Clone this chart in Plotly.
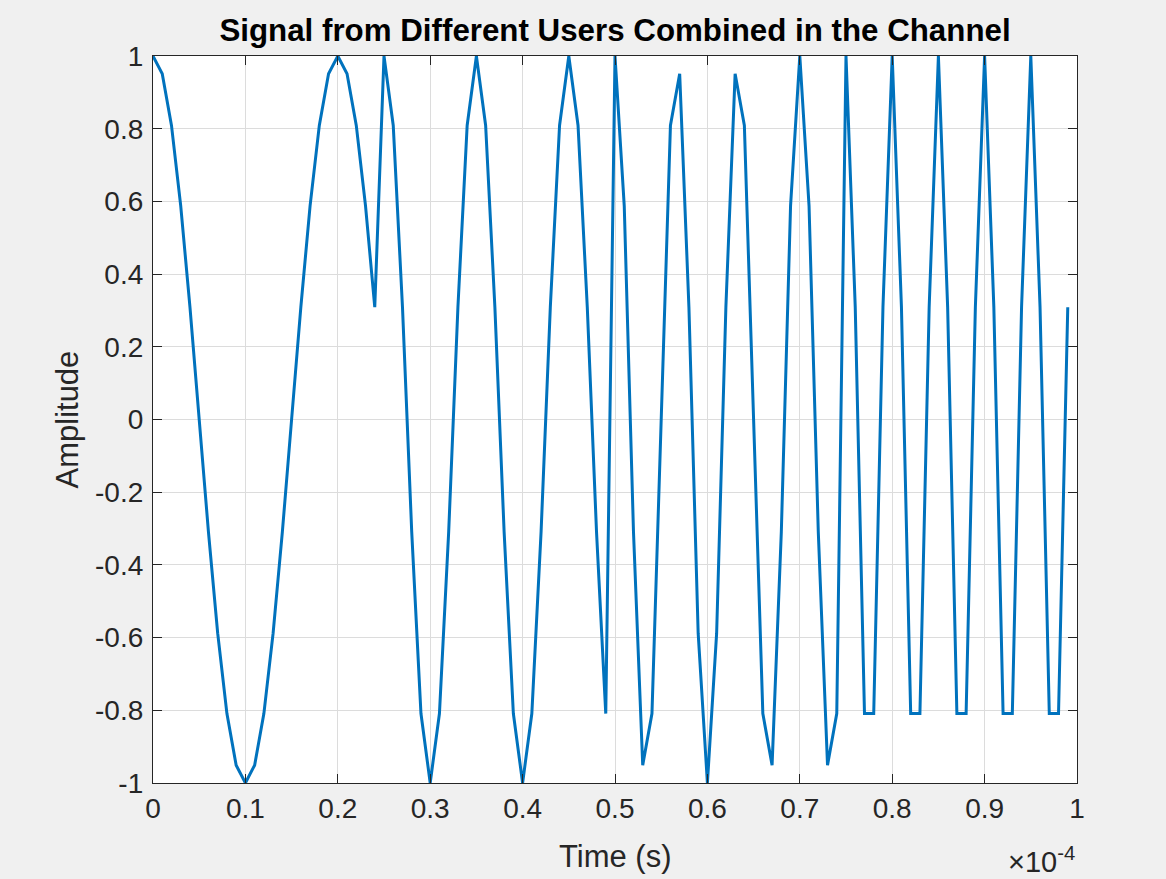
import plotly.graph_objects as go

# Time in units of 1e-4 s (sample step 1e-6 s)
time_e4 = [i / 100 for i in range(100)]

amplitude = [
    # user 1
    1.0, 0.9511, 0.8090, 0.5878, 0.3090, 0.0, -0.3090, -0.5878, -0.8090, -0.9511,
    -1.0, -0.9511, -0.8090, -0.5878, -0.3090, 0.0, 0.3090, 0.5878, 0.8090, 0.9511,
    1.0, 0.9511, 0.8090, 0.5878, 0.3090,
    # user 2
    1.0, 0.8090, 0.3090, -0.3090, -0.8090, -1.0, -0.8090, -0.3090, 0.3090, 0.8090,
    1.0, 0.8090, 0.3090, -0.3090, -0.8090, -1.0, -0.8090, -0.3090, 0.3090, 0.8090,
    1.0, 0.8090, 0.3090, -0.3090, -0.8090,
    # user 3
    1.0, 0.5878, -0.3090, -0.9511, -0.8090, 0.0, 0.8090, 0.9511, 0.3090, -0.5878,
    -1.0, -0.5878, 0.3090, 0.9511, 0.8090, 0.0, -0.8090, -0.9511, -0.3090, 0.5878,
    1.0, 0.5878, -0.3090, -0.9511, -0.8090,
    # user 4
    1.0, 0.3090, -0.8090, -0.8090, 0.3090, 1.0, 0.3090, -0.8090, -0.8090, 0.3090,
    1.0, 0.3090, -0.8090, -0.8090, 0.3090, 1.0, 0.3090, -0.8090, -0.8090, 0.3090,
    1.0, 0.3090, -0.8090, -0.8090, 0.3090,
]

x_tickvals = [0, 0.1, 0.2, 0.3, 0.4, 0.5, 0.6, 0.7, 0.8, 0.9, 1]
x_ticktext = ["0", "0.1", "0.2", "0.3", "0.4", "0.5", "0.6", "0.7", "0.8", "0.9", "1"]
y_tickvals = [-1, -0.8, -0.6, -0.4, -0.2, 0, 0.2, 0.4, 0.6, 0.8, 1]
y_ticktext = ["-1", "-0.8", "-0.6", "-0.4", "-0.2", "0", "0.2", "0.4", "0.6", "0.8", "1"]

title_text = "Signal from Different Users Combined in the Channel"
x_label = "Time (s)"
y_label = "Amplitude"

FONT = "Liberation Sans, Arial, Helvetica, sans-serif"
AX = "#262626"

fig = go.Figure()
fig.add_trace(go.Scatter(
    x=time_e4, y=amplitude, mode="lines",
    line=dict(color="#0072BD", width=3),
    showlegend=False,
))

axis_common = dict(
    showline=True, linecolor=AX, linewidth=1.3, mirror="ticks",
    ticks="inside", ticklen=9, tickwidth=1.3, tickcolor=AX,
    showgrid=True, gridcolor="#dcdcdc", gridwidth=1,
    zeroline=False,
    tickfont=dict(family=FONT, size=28, color=AX),
)

fig.update_xaxes(range=[0, 1], tickvals=x_tickvals, ticktext=x_ticktext, **axis_common)
fig.update_yaxes(range=[-1, 1], tickvals=y_tickvals, ticktext=y_ticktext,
                 ticklabelstandoff=3, **axis_common)

W, H = 1166, 879
L, R, T, B = 153, 89, 56, 96
ph = H - T - B
pw = W - L - R

fig.update_layout(
    width=W, height=H,
    margin=dict(l=L, r=R, t=T, b=B),
    paper_bgcolor="#f0f0f0", plot_bgcolor="#ffffff",
    title=dict(
        text="<b>" + title_text + "</b>",
        font=dict(family=FONT, size=31.3, color="#000000"),
        x=(L + pw / 2) / W, xanchor="center",
        y=1 - 30 / H, yanchor="middle", yref="container",
    ),
    annotations=[
        dict(text=x_label, xref="paper", yref="paper",
             x=0.5, y=-(857 - (T + ph)) / ph, xanchor="center", yanchor="middle",
             showarrow=False, font=dict(family=FONT, size=31, color=AX)),
        dict(text=y_label, xref="paper", yref="paper",
             x=(67 - L) / pw, y=0.5, xanchor="center", yanchor="middle", textangle=-90,
             showarrow=False, font=dict(family=FONT, size=31, color=AX)),
        dict(text="×10<sup>-4</sup>", xref="paper", yref="paper",
             x=1, y=-(860 - (T + ph)) / ph, xanchor="right", yanchor="middle",
             showarrow=False, font=dict(family=FONT, size=29, color=AX)),
    ],
)

fig.write_html(
    "out.html",
    config={"displayModeBar": False},
    post_script="document.body.style.margin='0';document.body.style.background='#f0f0f0';"
                "document.documentElement.style.overflow='hidden';",
)
